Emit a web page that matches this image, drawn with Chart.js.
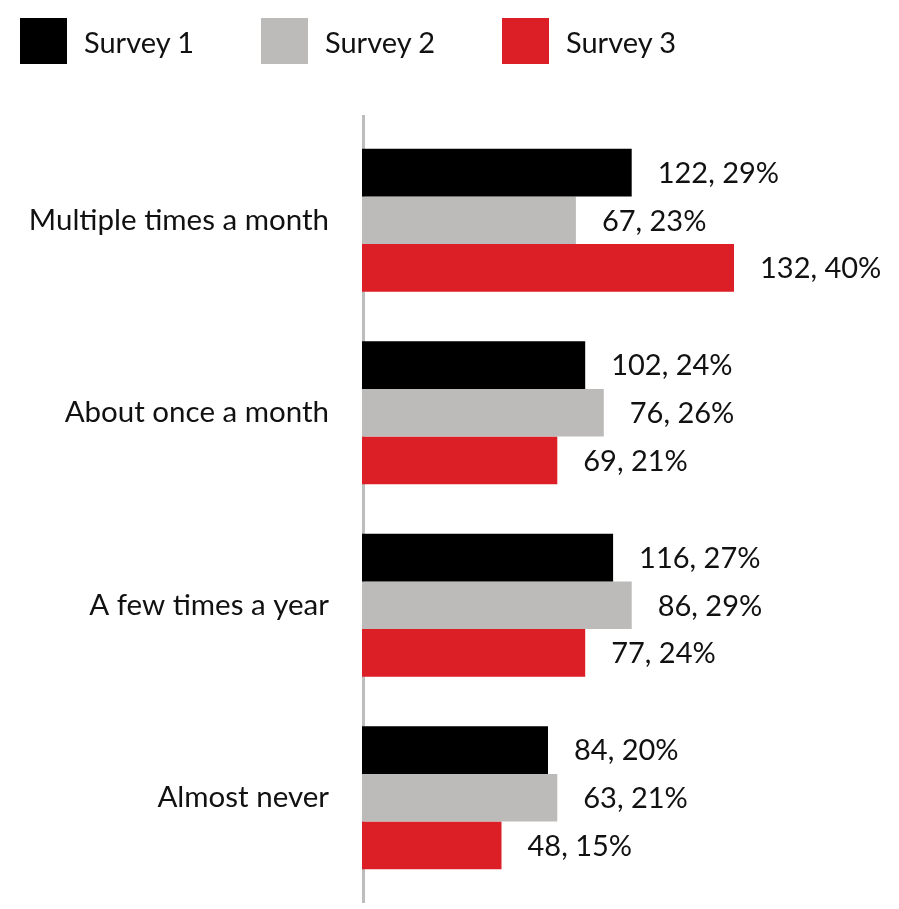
<!DOCTYPE html>
<html>
<head>
<meta charset="utf-8">
<title>Survey frequency</title>
<script src="https://cdn.jsdelivr.net/npm/chart.js@4.4.1/dist/chart.umd.min.js"></script>
<style>
    html, body { margin: 0; padding: 0; background: #fff; }
    #wrap { position: relative; width: 899px; height: 909px; }
    #legend { position: absolute; left: 20px; top: 18px; display: flex; font-family: Lato, sans-serif; font-size: 29px; color: #111; }
    .item { display: flex; align-items: center; width: 241px; }
    .box { width: 47px; height: 46px; margin-right: 17px; }
</style>
</head>
<body>
<div id="wrap">
    <canvas id="myChart" width="899" height="909"></canvas>
    <div id="legend"></div>
</div>
<script>
// categories and series
const categories = ["Multiple times a month", "About once a month", "A few times a year", "Almost never"];
const seriesNames = ["Survey 1", "Survey 2", "Survey 3"];
const seriesColors = ["#000000", "#bcbbba", "#dc1f26"];

// counts and percentages
const survey1Counts = [122, 102, 116, 84];
const survey1Pct = [29, 24, 27, 20];
const survey2Counts = [67, 76, 86, 63];
const survey2Pct = [23, 26, 29, 21];
const survey3Counts = [132, 69, 77, 48];
const survey3Pct = [40, 21, 24, 15];

const allCounts = [survey1Counts, survey2Counts, survey3Counts];
const allPct = [survey1Pct, survey2Pct, survey3Pct];

// html legend
let legend = document.getElementById("legend");
seriesNames.forEach(function (name, i) {
    let item = document.createElement("div");
    item.className = "item";
    let box = document.createElement("div");
    box.className = "box";
    box.style.background = seriesColors[i];
    item.appendChild(box);
    item.appendChild(document.createTextNode(name));
    legend.appendChild(item);
});

// grey axis line, a bit longer than the plot area
const axisLine = {
    id: "axisLine",
    beforeDatasetsDraw: function (chart) {
        let ctx = chart.ctx;
        let area = chart.chartArea;
        ctx.save();
        ctx.fillStyle = "#bdbdbd";
        ctx.fillRect(area.left, area.top - 9, 3, area.bottom - area.top + 18);
        ctx.restore();
    }
};

// "count, pct%" text after every bar
const barLabels = {
    id: "barLabels",
    afterDatasetsDraw: function (chart) {
        let ctx = chart.ctx;
        ctx.save();
        ctx.font = "29px Lato, sans-serif";
        ctx.fillStyle = "#111";
        ctx.textAlign = "left";
        ctx.textBaseline = "middle";
        chart.data.datasets.forEach(function (ds, i) {
            chart.getDatasetMeta(i).data.forEach(function (bar, j) {
                ctx.fillText(allCounts[i][j] + ", " + allPct[i][j] + "%", bar.x + 26, bar.y + 1);
            });
        });
        ctx.restore();
    }
};

let ctx = document.getElementById("myChart").getContext("2d");
let myChart = new Chart(ctx, {
    type: "bar",
    data: {
        labels: categories,
        datasets: seriesNames.map(function (name, i) {
            return {
                label: name,
                data: allPct[i],
                backgroundColor: seriesColors[i],
                borderWidth: 0,
                barPercentage: 1,
                categoryPercentage: 0.744
            };
        })
    },
    options: {
        indexAxis: "y",
        responsive: false,
        animation: false,
        devicePixelRatio: 1,
        layout: { padding: { top: 124, bottom: 15, left: 0, right: 72 } },
        plugins: {
            legend: { display: false },
            tooltip: { enabled: false }
        },
        scales: {
            x: { display: false, min: 0, max: 50 },
            y: {
                grid: { display: false, drawTicks: false },
                border: { display: false },
                ticks: {
                    color: "#111",
                    padding: 33,
                    font: { family: "Lato, sans-serif", size: 29.5 }
                },
                afterFit: function (scale) {
                    scale.width = 362;
                    // tick padding should not push the plot area up
                    scale.paddingTop = 0;
                    scale.paddingBottom = 0;
                }
            }
        }
    },
    plugins: [axisLine, barLabels]
});
</script>
</body>
</html>
